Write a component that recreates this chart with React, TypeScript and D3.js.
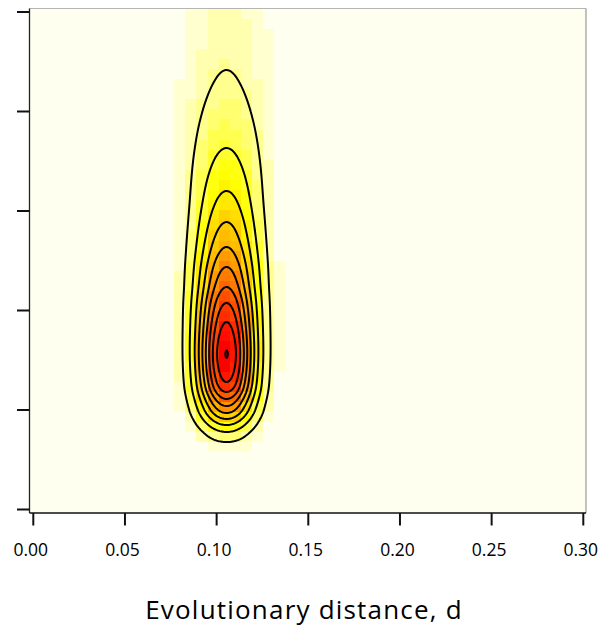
import React, { useMemo } from "react";
import * as d3 from "d3";

// ---- axis data ----
const xTicks = [0, 0.05, 0.1, 0.15, 0.2, 0.25, 0.3];
const xTickLabels = ["0.00", "0.05", "0.10", "0.15", "0.20", "0.25", "0.30"];
const yTicks = [0, 1, 2, 3, 4, 5];
const xLabel = "Evolutionary distance, d";

// ---- density ----
// relative density along the ridge (x = ridgeCenterD) at given y
const ridgeY = [0.397, 0.477, 0.548, 0.608, 0.678, 0.779, 0.849, 0.91, 0.97, 1.04, 1.111, 1.181, 1.281, 1.563, 1.884, 2.075, 2.236, 2.437, 2.638, 2.889, 3.201, 3.633, 4.417, 5.271];
const ridgeLevel = [0.001, 0.005, 0.02, 0.05, 0.1, 0.2, 0.3, 0.4, 0.5, 0.6, 0.7, 0.8, 0.9, 1.0, 0.9, 0.8, 0.7, 0.6, 0.5, 0.4, 0.3, 0.2, 0.1, 0.065];
const ridgeCenterD = 0.1054;
// spread (sd) in d at given y
const spreadY = [0.4, 0.8, 1.1, 1.6, 2.1, 2.6, 3.1, 3.6, 4.1, 4.6, 5.1];
const spreadSD = [0.011, 0.011, 0.0111, 0.0112, 0.0116, 0.0122, 0.013, 0.0146, 0.016, 0.0165, 0.017];
// contour levels (relative to the maximum)
const contourLevels = [0.1, 0.2, 0.3, 0.4, 0.5, 0.6, 0.7, 0.8, 0.9, 0.998];

// ---- layout ----
const W = 603;
const H = 629;
const plotLeft = 29.5;
const plotRight = 586;
const plotTop = 8.5;
const plotBottom = 513;
const nCells = 50;
const nColors = 32;

// Steffen monotone interpolation
function makeSteffen(xs: number[], ys: number[]) {
  const n = xs.length;
  const h: number[] = [];
  const s: number[] = [];
  for (let i = 0; i < n - 1; i++) {
    h.push(xs[i + 1] - xs[i]);
    s.push((ys[i + 1] - ys[i]) / (xs[i + 1] - xs[i]));
  }
  const m: number[] = new Array(n).fill(0);
  m[0] = s[0];
  m[n - 1] = s[n - 2];
  for (let i = 1; i < n - 1; i++) {
    const p = (s[i - 1] * h[i] + s[i] * h[i - 1]) / (h[i - 1] + h[i]);
    m[i] = (Math.sign(s[i - 1]) + Math.sign(s[i])) * Math.min(Math.abs(s[i - 1]), Math.abs(s[i]), 0.5 * Math.abs(p));
  }
  return (x: number) => {
    if (x <= xs[0]) return ys[0] + m[0] * (x - xs[0]);
    if (x >= xs[n - 1]) return ys[n - 1] + m[n - 1] * (x - xs[n - 1]);
    let i = d3.bisectRight(xs, x) - 1;
    if (i > n - 2) i = n - 2;
    const t = (x - xs[i]) / h[i];
    const t2 = t * t;
    const t3 = t2 * t;
    return (
      (2 * t3 - 3 * t2 + 1) * ys[i] +
      (t3 - 2 * t2 + t) * h[i] * m[i] +
      (-2 * t3 + 3 * t2) * ys[i + 1] +
      (t3 - t2) * h[i] * m[i + 1]
    );
  };
}

const logRidge = makeSteffen(ridgeY, ridgeLevel.map((v) => Math.log(v)));
const spreadFn = makeSteffen(spreadY, spreadSD);

function density(d: number, y: number) {
  const hv = Math.exp(logRidge(y));
  const sd = spreadFn(y);
  const z = (d - ridgeCenterD) / sd;
  return hv * Math.exp(-0.5 * z * z);
}

function heatColor(k: number) {
  const j = nColors >> 2;
  const i = nColors - j;
  // low -> high (reversed R heat.colors)
  if (k < j) {
    const s = 1 / (2 * j) + k * ((1 - 1 / j) / (j - 1));
    return d3.rgb(255, 255, Math.round(255 * (1 - s))).formatHex();
  }
  const m = k - j;
  const hue = (1 / 6) * (1 - m / (i - 1));
  return d3.rgb(255, Math.round(255 * hue * 6), 0).formatHex();
}

export default function App() {
  const x = d3.scaleLinear().domain([0, 0.3]).range([33.3, 583.3]);
  const y = d3.scaleLinear().domain([0, 5]).range([509.5, 12]);

  const { cells, paths } = useMemo(() => {
    const pw = plotRight - plotLeft;
    const ph = plotBottom - plotTop;
    const cw = pw / nCells;
    const ch = ph / nCells;
    const cellVals: { px: number; py: number; v: number }[] = [];
    let maxV = 0;
    for (let j = 0; j < nCells; j++) {
      for (let i = 0; i < nCells; i++) {
        const px = plotLeft + i * cw;
        const py = plotTop + j * ch;
        const v = density(x.invert(px + cw / 2), y.invert(py + ch / 2));
        if (v > maxV) maxV = v;
        cellVals.push({ px, py, v });
      }
    }
    const cells = cellVals.map((c) => {
      const k = Math.min(nColors - 1, Math.floor((c.v / maxV) * nColors));
      return { x: c.px, y: c.py, w: cw, h: ch, fill: heatColor(k) };
    });

    const nx = Math.round(pw);
    const ny = Math.round(ph);
    const sxp = pw / nx;
    const syp = ph / ny;
    const rowH: number[] = [];
    const rowS: number[] = [];
    for (let r = 0; r < ny; r++) {
      const yy = y.invert(plotTop + (r + 0.5) * syp);
      rowH.push(Math.exp(logRidge(yy)));
      rowS.push(spreadFn(yy));
    }
    const colD: number[] = [];
    for (let c = 0; c < nx; c++) colD.push(x.invert(plotLeft + (c + 0.5) * sxp));
    const vals = new Float64Array(nx * ny);
    for (let r = 0; r < ny; r++) {
      for (let c = 0; c < nx; c++) {
        const z = (colD[c] - ridgeCenterD) / rowS[r];
        vals[r * nx + c] = rowH[r] * Math.exp(-0.5 * z * z);
      }
    }
    const contours = d3.contours().size([nx, ny]).thresholds(contourLevels)(vals as any);
    const proj = d3.geoTransform({
      point(px: number, py: number) {
        (this as any).stream.point(plotLeft + px * sxp, plotTop + py * syp);
      },
    });
    const path = d3.geoPath(proj);
    const paths = contours.map((c) => path(c as any) || "");
    return { cells, paths };
  }, []);

  const font = "'Open Sans', 'DejaVu Sans', sans-serif";

  return (
    <svg width={W} height={H} style={{ position: "absolute", left: 0, top: 0, background: "#fff" }}>
      <defs>
        <clipPath id="plotclip">
          <rect x={plotLeft} y={plotTop} width={plotRight - plotLeft} height={plotBottom - plotTop} />
        </clipPath>
      </defs>
      <g clipPath="url(#plotclip)" shapeRendering="crispEdges">
        {cells.map((c, i) => (
          <rect key={i} x={c.x} y={c.y} width={c.w + 0.6} height={c.h + 0.6} fill={c.fill} />
        ))}
      </g>
      <g clipPath="url(#plotclip)">
        {paths.map((d, i) => (
          <path key={i} d={d} fill="none" stroke="#000" strokeWidth={2} strokeLinejoin="round" />
        ))}
      </g>
      {/* frame */}
      <line x1={plotLeft} x2={plotRight} y1={plotTop} y2={plotTop} stroke="#b4b4b4" strokeWidth={1.2} />
      <line x1={plotRight} x2={plotRight} y1={plotTop} y2={plotBottom} stroke="#9a9a9a" strokeWidth={1.2} />
      <line x1={plotLeft} x2={plotLeft} y1={plotTop} y2={plotBottom} stroke="#222" strokeWidth={1.3} />
      <line x1={plotLeft} x2={plotRight} y1={plotBottom} y2={plotBottom} stroke="#111" strokeWidth={1.4} />
      {/* y ticks */}
      {yTicks.map((t) => (
        <line key={t} x1={17} x2={plotLeft} y1={y(t)} y2={y(t)} stroke="#111" strokeWidth={2} />
      ))}
      {/* x ticks */}
      {xTicks.map((t, i) => (
        <g key={t}>
          <line x1={x(t)} x2={x(t)} y1={plotBottom} y2={525.5} stroke="#111" strokeWidth={2} />
          <text x={x(t) - 2.5} y={556} textAnchor="middle" fontFamily={font} fontSize={17.5} fill="#000">
            {xTickLabels[i]}
          </text>
        </g>
      ))}
      <text x={304} y={619} textAnchor="middle" fontFamily={font} fontSize={26} letterSpacing={1.2} fill="#000">
        {xLabel}
      </text>
    </svg>
  );
}
